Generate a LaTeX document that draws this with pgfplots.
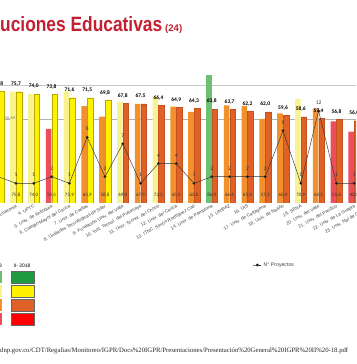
\documentclass[border=0pt]{standalone}
\usepackage{pgfplots}
\pgfplotsset{compat=1.18}
\usepackage{fontspec}
\usepackage{graphicx}
\setmainfont{Carlito}
\newfontfamily\titlefont{Liberation Sans}
\newfontfamily\arialfont{Liberation Sans}
\newfontfamily\urlfont{Liberation Serif}
\definecolor{ly}{HTML}{F9F290}
\definecolor{lo}{HTML}{F2912C}
\definecolor{lr}{HTML}{EE4E5C}
\definecolor{lg}{HTML}{6DBF72}
\definecolor{dy}{HTML}{FFF200}
\definecolor{dyb}{HTML}{B8A800}
\definecolor{do}{HTML}{DE6127}
\definecolor{dob}{HTML}{C4511E}
\definecolor{titlered}{HTML}{C41F30}
\definecolor{sg}{HTML}{1F9A40}
\definecolor{sr}{HTML}{FF0000}
\begin{document}
\begin{tikzpicture}[x=1pt,y=1pt]
\useasboundingbox (0,0) rectangle (356,364);
\begin{scope}
\clip (0,0) rectangle (356,364);
% title
\node[anchor=base west, inner sep=0, text=titlered] at (0,332) {\resizebox{162pt}{15pt}{\titlefont\bfseries uciones Educativas}};
\node[anchor=base west, inner sep=0, text=titlered] at (165,332) {\resizebox{17pt}{!}{\titlefont\bfseries (24)}};
% main bars
\begin{axis}[
  at={(-19.6pt,161pt)}, anchor=south west,
  width=409.4pt, height=147pt, scale only axis,
  xmin=1, xmax=24, ymin=0, ymax=100,
  axis line style={draw=none},
  major tick length=0pt,
  ytick={80}, yticklabels={}, ymajorgrids, grid style={gray!45, line width=0.5pt},
  xtick={3,...,23},
  xticklabels={3. Univ. de la Amazonia, 4. UPTC, 5. Univ. de Antioquia, 6. Colegio Mayor del Cauca, 7. Univ. de Caldas, 8. Unidades Tecnológicas de Sder, 9. Fundación Univ. del Valle, 10. Inst. Tecnol. del Putumayo, 11. Univ. Tecnol. del Chocó, 12. Univ. del Cauca, 13. ITNC. Simón Rodríguez Cali, 14. Univ. de Pamplona, 15. UNIPAZ, 16. UIS, 17. Univ. de Cartagena, 18. Univ. de Nariño, 19. SENA, 20. Univ. del Valle, 21. Univ. del Pacífico, 22. Univ. de La Guajira, 23. Univ. Nal de Colombia},
  xticklabel style={rotate=29, anchor=north east, font=\arialfont\fontsize{4.6}{5}\selectfont, text=black!75, inner sep=0.8pt},
  /pgf/number format/.cd, fixed, fixed zerofill, precision=1, use comma, assume math mode=true,
]
\addplot[gray!60, line width=0.5pt] coordinates {(1,56.64) (24,56.64)};
% light bars (I-2018)
\addplot[ybar, bar width=5.6pt, bar shift=-3pt, fill=ly, draw=none] coordinates {(3,75.8) (4,74.0) (6,75.9) (9,69.0) (11,72.5) (19,70.9)};
\addplot[ybar, bar width=5.6pt, bar shift=-3pt, fill=lo, draw=none] coordinates {(7,65.9) (8,58.8) (10,67.5) (12,65.5) (13,62.0) (15,66.4) (16,65.9) (17,57.3) (18,60.9) (20,64.2)};
\addplot[ybar, bar width=5.6pt, bar shift=-3pt, fill=lr, draw=none] coordinates {(5,50.5) (21,55.6) (22,48.5)};
\addplot[ybar, bar width=5.6pt, bar shift=-3pt, fill=lg, draw=none] coordinates {(14,86.9)};
% dark bars (II-2018)
\addplot[ybar, bar width=5.6pt, bar shift=3pt, fill=dy, draw=dyb, line width=0.3pt,
  nodes near coords, every node near coord/.append style={font=\fontsize{5.5}{6}\selectfont\bfseries, text=black, yshift=2pt}]
  coordinates {(2,75.8) (3,75.7) (4,74.0) (5,73.8) (6,71.6) (7,71.5) (8,69.8)};
\addplot[ybar, bar width=5.6pt, bar shift=3pt, fill=do, draw=dob, line width=0.3pt,
  nodes near coords, every node near coord/.append style={font=\fontsize{5.5}{6}\selectfont\bfseries, text=black, yshift=2pt}]
  coordinates {(9,67.8) (10,67.5) (11,66.4) (12,64.9) (13,64.3) (14,63.8) (15,63.7) (16,62.2) (17,62.0) (18,59.6) (19,58.6) (20,57.4) (21,56.8) (22,56.0)};
% I-2018 values at bar bottom
\addplot[draw=none, mark=none, point meta=explicit, nodes near coords,
  every node near coord/.append style={anchor=center, font=\fontsize{5}{6}\selectfont, text=black!80}]
  coordinates {(3,5.4) [75.8] (4,5.4) [74.0] (5,5.4) [50.5] (6,5.4) [75.9] (7,5.4) [65.9] (8,5.4) [58.8] (9,5.4) [69.0] (10,5.4) [67.5] (11,5.4) [72.5] (12,5.4) [65.5] (13,5.4) [62.0] (14,5.4) [86.9] (15,5.4) [66.4] (16,5.4) [65.9] (17,5.4) [57.3] (18,5.4) [60.9] (19,5.4) [70.9] (20,5.4) [64.2] (21,5.4) [55.6] (22,5.4) [48.5]};
\node[font=\fontsize{4.8}{5}\selectfont, text=gray] at (axis cs:2.66,57.9) {56,64};
\end{axis}
% projects line
\begin{axis}[
  at={(-19.6pt,161pt)}, anchor=south west,
  width=409.4pt, height=147pt, scale only axis,
  xmin=1, xmax=24, ymin=-2, ymax=20.37,
  hide axis,
  legend style={at={(0.6585,-0.4218)}, anchor=west, draw=none, fill=none, font=\arialfont\fontsize{5.2}{6}\selectfont, text=black!75},
  legend image code/.code={\draw[#1, mark repeat=2, mark phase=2] plot coordinates {(0pt,0pt) (4pt,0pt) (8pt,0pt)};},
  /pgf/number format/.cd, fixed, precision=0, assume math mode=true,
]
\addplot[black!80, line width=0.45pt, mark=*, mark size=1.2pt, mark options={fill=black},
  nodes near coords, every node near coord/.append style={font=\fontsize{5.5}{6}\selectfont, text=black!80, yshift=3pt}]
  coordinates {(2,2) (3,1) (4,1) (5,2) (6,1) (7,8) (8,2) (9,7) (10,1) (11,4) (12,4) (13,1) (14,2) (15,2) (16,2) (17,2) (18,9) (19,1) (20,12) (21,1) (22,1)};
\addlegendentry{N° Proyectos}
\end{axis}
% colour legend
\foreach \c/\yy in {lg/81, ly/67, lo/53, lr/39} {\fill[\c] (-12,\yy) rectangle (2,\yy+12);}
\foreach \c/\yy in {sg/81, dy/67, do/53, sr/39} {\filldraw[fill=\c, draw=black!60, line width=0.4pt] (11,\yy) rectangle (34,\yy+12);}
\node[anchor=east, inner sep=0, font=\arialfont\fontsize{5}{6}\selectfont] at (2,98) {I- 2018};
\node[inner sep=0, font=\arialfont\fontsize{5}{6}\selectfont] at (22,98) {II- 2018};
% source
\node[anchor=base west, inner sep=0, text=black!85] at (0,11.5) {\resizebox{348pt}{!}{\urlfont dnp.gov.co/CDT/Regalias/Monitoreo/IGPR/Docs\%20IGPR/Presentaciones/Presentación\%20General\%20IGPR\%20II\%20-18.pdf}};
\end{scope}
\end{tikzpicture}
\end{document}
